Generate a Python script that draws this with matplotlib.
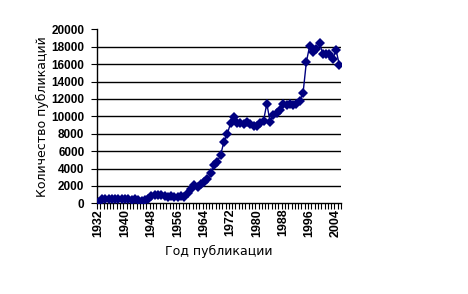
import matplotlib
matplotlib.use("Agg")
import matplotlib.pyplot as plt
import numpy as np

years = list(range(1932, 2006))
counts = [100, 450, 500, 500, 480, 500, 500, 480, 500, 450,
          420, 450, 400, 300, 350, 500, 800, 950, 950, 950,
          850, 700, 800, 750, 750, 800, 750, 1150, 1700, 2100,
          1900, 2200, 2500, 2800, 3450, 4400, 4800, 5550, 7100, 7950,
          9200, 9950, 9260, 9260, 9080, 9310, 9080, 8890, 8890, 9260,
          9500, 11450, 9390, 10160, 10340, 10700, 11450, 11340, 11450, 11340,
          11400, 11800, 12700, 16270, 18080, 17430, 17700, 18390, 17160, 17160,
          17160, 16550, 17620, 15900]
y_ticks = list(range(0, 20001, 2000))

plt.rcParams['font.family'] = ['Liberation Sans', 'DejaVu Sans']

fig = plt.figure(figsize=(4.68, 2.94), dpi=100)
ax = fig.add_axes([97/468, 90.7/294, 244/468, 174/294])

x = np.arange(len(years))
# horizontal grid (no line at 0 and 20000, like the original)
for v in y_ticks[1:-1]:
    ax.axhline(v, color='black', linewidth=1, zorder=1)
ax.plot(x, counts, color='#000080', linewidth=1, marker='D', markersize=4.8,
        markeredgewidth=0, zorder=3)

ax.set_xlim(-0.5, len(years) - 0.5)
ax.set_ylim(0, 20000)
ax.set_yticks(y_ticks)
ax.set_yticklabels([str(v) for v in y_ticks], fontsize=8.5, fontweight='bold')
lab_idx = list(range(0, len(years), 8))
ax.set_xticks(lab_idx)
ax.set_xticklabels([str(years[i]) for i in lab_idx], rotation=90,
                   fontsize=9, fontweight='bold')
ax.set_xticks(np.arange(-0.5, len(years), 1), minor=True)
ax.tick_params(axis='x', which='major', length=0, pad=4)
ax.tick_params(axis='x', which='minor', length=4, width=0.8, direction='out')
ax.tick_params(axis='y', length=4, width=0.8, direction='out', pad=5)

for s in ['top', 'right']:
    ax.spines[s].set_visible(False)
for s in ['left', 'bottom']:
    ax.spines[s].set_linewidth(1)
    ax.spines[s].set_color('black')

ax.set_ylabel('Количество публикаций', fontsize=9, family='DejaVu Sans', labelpad=2)
ax.set_xlabel('Год публикации', fontsize=9, family='DejaVu Sans', labelpad=6)

fig.savefig('out.png', dpi=100)
